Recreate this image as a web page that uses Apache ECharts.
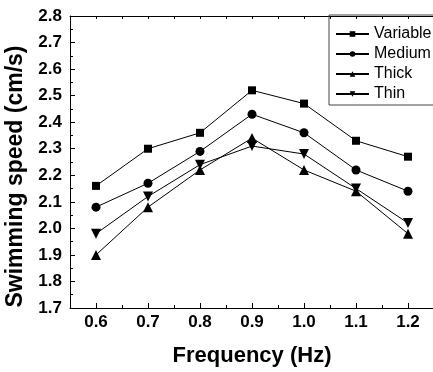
<!DOCTYPE html>
<html lang="en">
<head>
    <meta charset="UTF-8">
    <title>Swimming speed vs frequency</title>
    <style>
        body { margin: 0; background: #fff; }
        #container { width: 433px; height: 372px; }
    </style>
    <script src="https://cdn.jsdelivr.net/npm/echarts@6.0.0/dist/echarts.min.js"></script>
</head>
<body>
    <div id="container"></div>
    <script>
        // data
        var freq = [0.6, 0.7, 0.8, 0.9, 1.0, 1.1, 1.2];
        var variable = [2.16, 2.30, 2.36, 2.52, 2.47, 2.33, 2.27];
        var medium = [2.08, 2.17, 2.29, 2.43, 2.36, 2.22, 2.14];
        var thick = [1.90, 2.08, 2.22, 2.34, 2.22, 2.14, 1.98];
        var thin = [1.98, 2.12, 2.24, 2.31, 2.28, 2.15, 2.02];
        var seriesNames = ['Variable', 'Medium', 'Thick', 'Thin'];
        var xMajorTicks = [0.6, 0.7, 0.8, 0.9, 1.0, 1.1, 1.2];
        var xMinorTicks = [0.65, 0.75, 0.85, 0.95, 1.05, 1.15];

        var font = 'Arial, "Liberation Sans", sans-serif';

        function pairs(ys) {
            return freq.map(function (f, i) { return [f, ys[i]]; });
        }

        function makeSeries(name, ys, symbol, size, rotate) {
            return {
                name: name,
                type: 'line',
                data: pairs(ys),
                symbol: symbol,
                symbolSize: size,
                symbolRotate: rotate || 0,
                color: '#000',
                itemStyle: { color: '#000' },
                lineStyle: { color: '#000', width: 1 },
                emphasis: { disabled: true }
            };
        }

        var chart = echarts.init(document.getElementById('container'));

        var option = {
            backgroundColor: '#fff',
            animation: false,
            grid: { left: 70, top: 16, width: 364, height: 292, outerBoundsMode: 'none' },
            legend: {
                orient: 'vertical',
                left: 329,
                top: 15,
                padding: [11, 6, 3, 6],
                itemWidth: 33,
                itemHeight: 7,
                itemGap: 4,
                borderColor: '#444',
                borderWidth: 1,
                textStyle: { fontFamily: font, fontSize: 16, color: '#000' },
                data: seriesNames
            },
            xAxis: [{
                type: 'value',
                min: 0.55,
                max: 1.25,
                position: 'bottom',
                name: 'Frequency (Hz)',
                nameLocation: 'middle',
                nameGap: 37,
                nameTextStyle: { fontFamily: font, fontSize: 22, fontWeight: 'bold', color: '#000' },
                axisLine: { lineStyle: { color: '#000', width: 1 } },
                axisTick: { inside: true, length: 5, customValues: xMajorTicks, lineStyle: { color: '#000' } },
                axisLabel: {
                    customValues: xMajorTicks,
                    margin: 6,
                    fontFamily: font, fontSize: 17, fontWeight: 'bold', color: '#000',
                    formatter: function (v) { return v.toFixed(1); }
                },
                splitLine: { show: false }
            }, {
                type: 'value',
                min: 0.55,
                max: 1.25,
                position: 'bottom',
                axisLine: { show: false },
                axisTick: { inside: true, length: 3, customValues: xMinorTicks, lineStyle: { color: '#000' } },
                axisLabel: { show: false },
                splitLine: { show: false }
            }, {
                type: 'value',
                min: 0.55,
                max: 1.25,
                position: 'top',
                axisLine: { lineStyle: { color: '#000', width: 1 } },
                axisTick: { inside: true, length: 3, customValues: xMajorTicks.concat(xMinorTicks), lineStyle: { color: '#000' } },
                axisLabel: { show: false },
                splitLine: { show: false }
            }],
            yAxis: {
                type: 'value',
                min: 1.7,
                max: 2.8,
                interval: 0.1,
                name: 'Swimming speed (cm/s)',
                nameLocation: 'middle',
                nameGap: 41,
                nameTextStyle: {
                    fontFamily: font, fontSize: 23, fontWeight: 'bold', color: '#000',
                    padding: [0, 29, 0, 0]
                },
                axisLine: { show: true, lineStyle: { color: '#000', width: 1 } },
                axisTick: { show: true, inside: true, length: 5, lineStyle: { color: '#000' } },
                minorTick: { show: true, splitNumber: 2, length: 3, lineStyle: { color: '#000' } },
                axisLabel: {
                    margin: 8,
                    fontFamily: font, fontSize: 17, fontWeight: 'bold', color: '#000',
                    formatter: function (v) { return v.toFixed(1); }
                },
                splitLine: { show: false }
            },
            series: [
                makeSeries(seriesNames[0], variable, 'rect', 8),
                makeSeries(seriesNames[1], medium, 'circle', 9),
                makeSeries(seriesNames[2], thick, 'triangle', 10),
                makeSeries(seriesNames[3], thin, 'triangle', 10, 180)
            ]
        };

        chart.setOption(option);
        window.addEventListener('resize', function () { chart.resize(); });
    </script>
</body>
</html>
